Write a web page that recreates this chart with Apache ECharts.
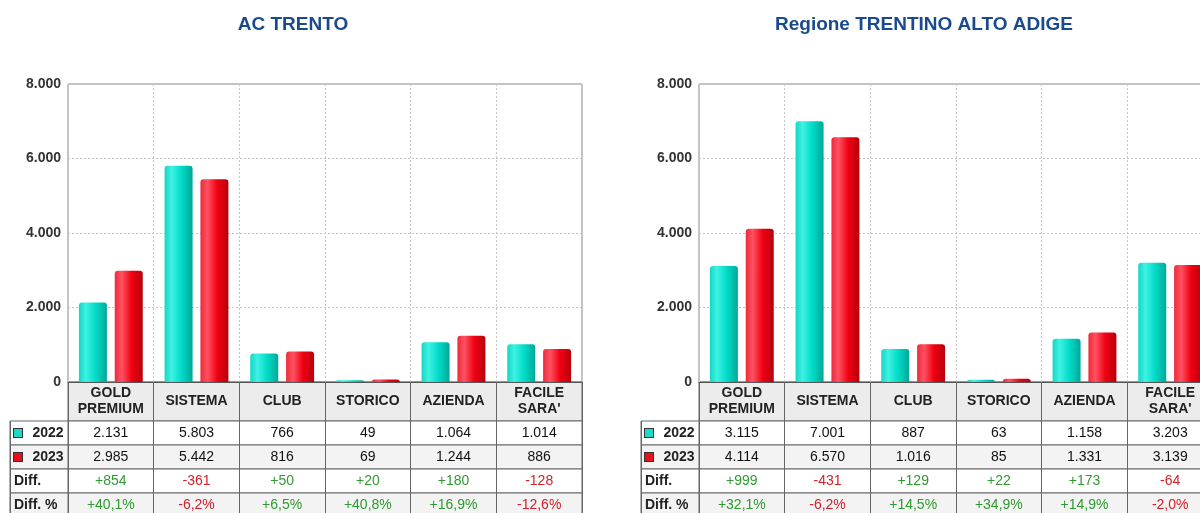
<!DOCTYPE html>
<html>
<head>
<meta charset="utf-8">
<script src="https://cdn.jsdelivr.net/npm/echarts@6.0.0/dist/echarts.min.js"></script>
<style>
  html, body { margin: 0; padding: 0; background: #fff; }
  #chart-container { width: 1200px; height: 513px; }
</style>
</head>
<body>
<div id="chart-container"></div>
<script>
// Data
const categories = ['GOLD\nPREMIUM', 'SISTEMA', 'CLUB', 'STORICO', 'AZIENDA', "FACILE\nSARA'"];
const years = ['2022', '2023'];
const trento2022 = [2131, 5803, 766, 49, 1064, 1014];
const trento2023 = [2985, 5442, 816, 69, 1244, 886];
const regione2022 = [3115, 7001, 887, 63, 1158, 3203];
const regione2023 = [4114, 6570, 1016, 85, 1331, 3139];
const yMin = 0, yMax = 8000, yStep = 2000;

const FONT = 'Liberation Sans, Arial, sans-serif';
const PLOT_TOP = 84, PLOT_H = 298, PLOT_W = 514, LABEL_W = 58;
const HEAD_H = 39, ROW_H = 24;
const GREEN = '#2f9a2f', RED = '#d42028', TEXT = '#111';

const panels = [
  { title: 'AC TRENTO', left: 68, a: trento2022, b: trento2023 },
  { title: 'Regione TRENTINO ALTO ADIGE', left: 699, a: regione2022, b: regione2023 }
];

// 1.234 style numbers
function fmt(n) {
  return String(Math.abs(n)).replace(/\B(?=(\d{3})+(?!\d))/g, '.');
}
function signed(n) {
  return (n >= 0 ? '+' : '-') + fmt(n);
}

const tealGrad = new echarts.graphic.LinearGradient(0, 0, 1, 0, [
  { offset: 0, color: '#14d6c6' },
  { offset: 0.25, color: '#3ff2e2' },
  { offset: 0.6, color: '#00dcc8' },
  { offset: 1, color: '#00a898' }
]);
const redGrad = new echarts.graphic.LinearGradient(0, 0, 1, 0, [
  { offset: 0, color: '#ee2a3a' },
  { offset: 0.25, color: '#ff5262' },
  { offset: 0.6, color: '#f00012' },
  { offset: 1, color: '#b8000c' }
]);

const grids = [], xAxes = [], yAxes = [], series = [], titles = [];

function addGrid(g, x, y) {
  grids.push(Object.assign({ outerBoundsMode: 'none', containLabel: false }, g));
  const i = grids.length - 1;
  xAxes.push(Object.assign({ gridIndex: i }, x));
  yAxes.push(Object.assign({ gridIndex: i }, y));
  return i;
}

const hiddenY = { type: 'category', data: [''], show: false };

function cellAxis(data, h, label) {
  return {
    type: 'category',
    data: data,
    position: 'bottom',
    axisLine: { show: false },
    axisTick: { show: false },
    splitLine: { show: true, interval: 0, lineStyle: { color: '#666', width: 1 } },
    axisLabel: Object.assign({
      interval: 0,
      inside: true,
      margin: h / 2,
      verticalAlign: 'middle',
      fontFamily: FONT,
      fontSize: 14,
      color: TEXT
    }, label)
  };
}

panels.forEach(p => {
  titles.push({
    text: p.title,
    left: p.left + PLOT_W / 2 - 32,
    top: 15,
    padding: 0,
    textAlign: 'center',
    textStyle: { fontFamily: FONT, fontSize: 19, fontWeight: 'bold', color: '#1b4a8c' }
  });

  // bar plot
  const g = addGrid(
    { left: p.left, top: PLOT_TOP, width: PLOT_W, height: PLOT_H, show: true,
      backgroundColor: '#fff', borderColor: '#8a8a8a', borderWidth: 1 },
    { type: 'category', data: categories,
      axisLine: { show: true, lineStyle: { color: '#555' } },
      axisTick: { show: false }, axisLabel: { show: false },
      splitLine: { show: true, interval: 0, lineStyle: { color: '#c4c4c4', type: [2, 2] } } },
    { type: 'value', min: yMin, max: yMax, interval: yStep,
      axisLine: { show: false }, axisTick: { show: false },
      axisLabel: { fontFamily: FONT, fontSize: 14, fontWeight: 'bold', color: '#333', margin: 7,
                   formatter: v => fmt(v) },
      splitLine: { show: true, lineStyle: { color: '#c4c4c4', type: [2, 2] } } }
  );
  [[p.a, tealGrad], [p.b, redGrad]].forEach(([vals, col], k) => {
    series.push({
      type: 'bar', name: years[k], xAxisIndex: g, yAxisIndex: g, data: vals,
      barWidth: 28, barGap: '28%',
      itemStyle: { color: col, borderRadius: [3, 3, 0, 0] }
    });
  });

  // table header
  addGrid(
    { left: p.left, top: PLOT_TOP + PLOT_H, width: PLOT_W, height: HEAD_H, show: true,
      backgroundColor: '#ececec', borderColor: '#666', borderWidth: 1 },
    cellAxis(categories, HEAD_H, { fontWeight: 'bold', lineHeight: 16, color: '#222' }),
    hiddenY
  );

  // table rows
  const diff = p.a.map((v, i) => p.b[i] - v);
  const pct = diff.map((d, i) => (d >= 0 ? '+' : '-') + Math.abs(d / p.a[i] * 100).toFixed(1).replace('.', ',') + '%');
  const rows = [
    { label: years[0], sq: '#20d8c8', texts: p.a.map(fmt), colors: p.a.map(() => TEXT), bg: '#fff' },
    { label: years[1], sq: '#e8101c', texts: p.b.map(fmt), colors: p.b.map(() => TEXT), bg: '#f3f3f3' },
    { label: 'Diff.', texts: diff.map(signed), colors: diff.map(d => d >= 0 ? GREEN : RED), bg: '#fff' },
    { label: 'Diff. %', texts: pct, colors: diff.map(d => d >= 0 ? GREEN : RED), bg: '#f3f3f3' }
  ];
  rows.forEach((r, ri) => {
    const top = PLOT_TOP + PLOT_H + HEAD_H + ri * ROW_H;
    addGrid(
      { left: p.left, top: top, width: PLOT_W, height: ROW_H, show: true,
        backgroundColor: r.bg, borderColor: '#666', borderWidth: 1 },
      cellAxis(categories, ROW_H, {
        formatter: (v, i) => r.texts[i],
        color: (v, i) => r.colors[i]
      }),
      hiddenY
    );
    addGrid(
      { left: p.left - LABEL_W, top: top, width: LABEL_W, height: ROW_H, show: true,
        backgroundColor: r.bg, borderColor: '#666', borderWidth: 1 },
      cellAxis([r.label], ROW_H, {
        formatter: v => r.sq ? '{sp|}{sq|}{t|' + v + '}' : '{t|' + v + '}',
        rich: {
          sp: { width: 4 },
          sq: { width: 8, height: 8, backgroundColor: r.sq || 'transparent', borderColor: '#333', borderWidth: 1 },
          t: { width: r.sq ? 40 : 50, align: 'left', padding: [0, 0, 0, r.sq ? 6 : 0],
               fontFamily: FONT, fontSize: 14, fontWeight: 'bold', color: '#222' }
        }
      }),
      hiddenY
    );
  });
});

const chartContainer = document.getElementById('chart-container');
const myChart = echarts.init(chartContainer);

const option = {
  animation: false,
  backgroundColor: '#fff',
  title: titles,
  grid: grids,
  xAxis: xAxes,
  yAxis: yAxes,
  series: series
};

myChart.setOption(option);
</script>
</body>
</html>
